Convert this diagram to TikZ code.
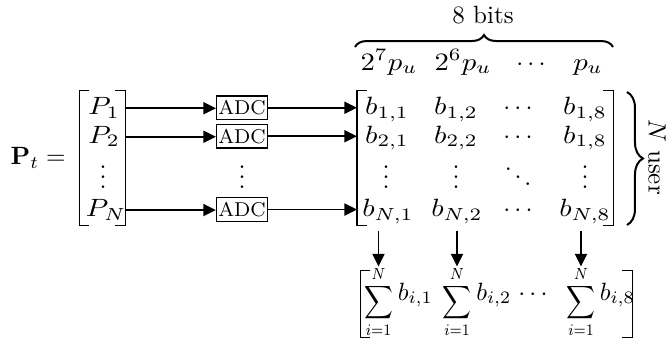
\documentclass[tikz,border=0pt]{standalone}
\usepackage{graphicx}
\usetikzlibrary{arrows.meta,decorations.pathreplacing,fit}
\newcommand\hx[1]{\scalebox{1.15}[1]{$#1$}}
\newcommand\sumlim{\scalebox{0.8}[0.92]{$\displaystyle\sum_{i=1}^{N}$}}
\begin{document}
\begin{tikzpicture}[x=0.4pt,y=-0.4pt,
  ent/.style={inner sep=0pt,text height=8pt,text depth=3pt,anchor=base},
  adcbox/.style={draw,line width=0.5pt,font=\footnotesize,inner xsep=0.7pt,inner ysep=2pt,text height=5.4pt,text depth=0pt,anchor=base},
  sumnode/.style={inner sep=0pt},
  arr/.style={line width=0.7pt,-{Triangle[length=5pt,width=4.8pt]}},
  br/.style={line width=0.6pt},
  curly/.style={decorate,decoration={brace,amplitude=#1},line width=0.8pt}]
\useasboundingbox (0,0) rectangle (669,341);
% left side
\node[anchor=base east,inner sep=0pt] (Pt) at (66,164.5) {$\mathbf{P}_t =$};
\node[inner sep=0pt,fit={(80,91) (125,225)}] (Pm) {};
\draw[br] ([xshift=4pt]Pm.north west) -- (Pm.north west) -- (Pm.south west) -- ([xshift=4pt]Pm.south west);
\draw[br] ([xshift=-4pt]Pm.north east) -- (Pm.north east) -- (Pm.south east) -- ([xshift=-4pt]Pm.south east);
\node[ent] (P1) at (104,114.5) {\hx{P_1}};
\node[ent] (P2) at (104,143) {\hx{P_2}};
\node[ent] (Pd) at (103,188) {$\vdots$};
\node[ent] (PN) at (106,216.3) {\hx{P_N}};
% ADC
\node[adcbox] (A1) at (242,114.5) {ADC};
\node[adcbox] (A2) at (242,143) {ADC};
\node[ent] (Ad) at (242,188) {$\vdots$};
\node[adcbox] (AN) at (242,216.3) {ADC};
\draw[arr] (P1.east -| Pm.east) -- (P1.east -| A1.west);
\draw[arr] (P2.east -| Pm.east) -- (P2.east -| A2.west);
\draw[arr] (PN.east -| Pm.east) -- (PN.east -| AN.west);
% b matrix
\node[inner sep=0pt,fit={(357.5,91) (613,225)}] (Bm) {};
\draw[br] ([xshift=4pt]Bm.north west) -- (Bm.north west) -- (Bm.south west) -- ([xshift=4pt]Bm.south west);
\draw[br] ([xshift=-4pt]Bm.north east) -- (Bm.north east) -- (Bm.south east) -- ([xshift=-4pt]Bm.south east);
\draw[arr] (A1.east) -- (A1.east -| Bm.west);
\draw[arr] (A2.east) -- (A2.east -| Bm.west);
\draw[arr] (AN.east) -- (AN.east -| Bm.west);
\node[ent] (b11) at (387,114.5) {\hx{b_{1,1}}};
\node[ent] (b12) at (456,114.5) {\hx{b_{1,2}}};
\node[ent] (b1c) at (518,114.5) {$\cdots$};
\node[ent] (b18) at (585,114.5) {\hx{b_{1,8}}};
\node[ent] (b21) at (387,143) {\hx{b_{2,1}}};
\node[ent] (b22) at (456,143) {\hx{b_{2,2}}};
\node[ent] (b2c) at (518,143) {$\cdots$};
\node[ent] (b28) at (585,143) {\hx{b_{1,8}}};
\node[ent] (bd1) at (386,188) {$\vdots$};
\node[ent] (bd2) at (456,188) {$\vdots$};
\node[ent] (bdd) at (518,188) {$\ddots$};
\node[ent] (bd8) at (585,188) {$\vdots$};
\node[ent] (bN1) at (388,216.3) {\hx{b_{N,1}}};
\node[ent] (bN2) at (457,216.3) {\hx{b_{N,2}}};
\node[ent] (bNc) at (518,216.3) {$\cdots$};
\node[ent] (bN8) at (585,216.3) {\hx{b_{N,8}}};
% header
\node[ent] (h1) at (389,70) {\hx{2^7p_u}};
\node[ent] (h2) at (463,70) {\hx{2^6p_u}};
\node[ent] (hc) at (531,70) {$\cdots$};
\node[ent] (h8) at (588,70) {\hx{p_u}};
\coordinate (bt1) at (355,47);
\coordinate (bt2) at (613,47);
\draw[curly=4.8pt] (bt1) -- (bt2);
\node[anchor=base,inner sep=0pt] (bits) at (483,23.5) {8 bits};
% right brace
\coordinate (rb1) at (627,92);
\coordinate (rb2) at (627,225);
\draw[curly=6.4pt] (rb1) -- (rb2);
\node[rotate=-90,inner sep=0pt] (Nu) at (657,157) {$N$ user};
% sums
\node[inner sep=0pt,fit={(361,271) (632,337)}] (Sm) {};
\draw[br] ([xshift=4pt]Sm.north west) -- (Sm.north west) -- (Sm.south west) -- ([xshift=4pt]Sm.south west);
\draw[br] ([xshift=-4pt]Sm.north east) -- (Sm.north east) -- (Sm.south east) -- ([xshift=-4pt]Sm.south east);
\node[sumnode,anchor=base] (S1) at (378.5,308) {\sumlim};
\node[sumnode,anchor=base west] (T1) at ([xshift=1.6pt,yshift=3.2pt]S1.base east) {$b_{i,1}$};
\node[sumnode,anchor=base] (S2) at (457,308) {\sumlim};
\node[sumnode,anchor=base west] (T2) at ([xshift=1.6pt,yshift=3.2pt]S2.base east) {$b_{i,2}$};
\node[sumnode,anchor=base] (Sc) at (533,300) {$\cdots$};
\node[sumnode,anchor=base] (S8) at (581,308) {\sumlim};
\node[sumnode,anchor=base west] (T8) at ([xshift=1.4pt,yshift=3.2pt]S8.base east) {$b_{i,8}$};
\draw[arr] ([yshift=-2pt]Bm.south -| S1.north) -- ([yshift=-0.4pt]S1.north);
\draw[arr] ([yshift=-2pt]Bm.south -| S2.north) -- ([yshift=-0.4pt]S2.north);
\draw[arr] ([yshift=-2pt]Bm.south -| S8.north) -- ([yshift=-0.4pt]S8.north);
\end{tikzpicture}
\end{document}
